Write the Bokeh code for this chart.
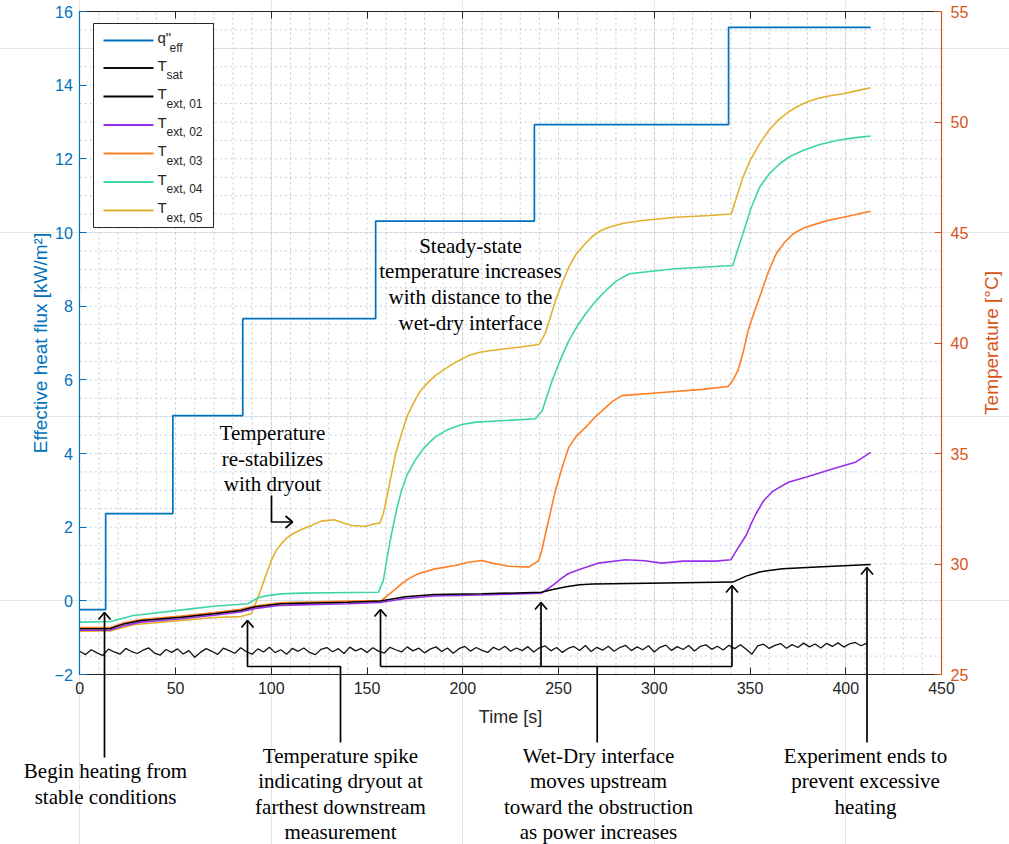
import numpy as np
from bokeh.plotting import figure
from bokeh.models import Range1d, LinearAxis, SingleIntervalTicker
from bokeh.core.properties import value
from bokeh.embed import file_html
from bokeh.resources import INLINE

# ---------------- data ----------------
q_time = [0, 13.5, 13.5, 48.6, 48.6, 85.1, 85.1, 154.5, 154.5, 237.4, 237.4, 338.8, 338.8, 413]
q_eff = [-0.24, -0.24, 2.37, 2.37, 5.03, 5.03, 7.66, 7.66, 10.31, 10.31, 12.93, 12.93, 15.57, 15.57]

tsat_time = list(range(0, 412, 3))
tsat = [26.05, 25.90, 26.12, 25.98, 25.86, 26.15, 26.02, 25.92, 26.18, 26.04, 25.95,
        26.10, 26.20, 25.97, 25.88, 26.13, 26.00, 26.16, 25.93, 26.08, 25.78,
        26.00, 26.17, 26.05, 25.91, 26.19, 26.08, 25.96, 26.21, 26.03, 25.92,
        26.16, 26.02, 26.23, 25.99, 26.12, 25.92, 26.18, 26.05, 26.20, 26.00,
        25.90, 26.14, 26.22, 26.03, 26.17, 25.95, 26.24, 26.07, 26.18, 26.00,
        26.21, 26.06, 25.97, 26.23, 26.12, 26.02, 26.25, 26.07, 26.19, 25.98,
        26.15, 26.25, 26.04, 26.20, 25.96, 26.17, 26.27, 26.06, 26.22, 26.09,
        26.00, 26.23, 26.11, 26.28, 26.05, 26.20, 26.08, 26.26, 26.02, 26.21,
        26.29, 26.07, 26.22, 26.00, 26.18, 26.27, 26.09, 26.31, 26.04, 26.23,
        26.10, 26.28, 26.05, 26.22, 26.32, 26.08, 26.25, 26.12, 26.30, 26.02,
        26.23, 26.33, 26.09, 26.26, 26.13, 26.31, 26.06, 26.27, 26.34, 26.14,
        26.28, 26.11, 26.32, 26.17, 26.35, 26.14, 25.92, 26.29, 26.37, 26.18,
        26.32, 26.40, 26.19, 26.35, 26.22, 26.42, 26.25, 26.38, 26.20, 26.41,
        26.27, 26.43, 26.24, 26.39, 26.45, 26.30, 26.42]

t01 = [0, 14, 16, 23, 32, 53, 70, 84, 91, 105, 140, 157, 170, 185, 210, 241, 247, 254, 261, 268,
       297, 341, 348, 355, 361, 367, 385, 413]
T01 = [27.07, 27.07, 27.08, 27.29, 27.44, 27.59, 27.75, 27.90, 28.05, 28.20, 28.27, 28.33,
       28.52, 28.62, 28.65, 28.72, 28.85, 28.97, 29.06, 29.10, 29.13, 29.18, 29.45, 29.64,
       29.72, 29.78, 29.86, 29.98]

t02 = [0, 14, 16, 23, 32, 53, 70, 84, 91, 105, 140, 157, 170, 185, 210, 241, 244.5, 248, 251.5,
       255, 262, 271, 285, 295, 304, 315, 332, 340, 344, 348, 350.5, 353, 357, 362, 370, 380,
       393, 405, 413]
T02 = [27.00, 27.00, 27.01, 27.21, 27.37, 27.52, 27.68, 27.83, 27.98, 28.13, 28.20, 28.26,
       28.44, 28.55, 28.60, 28.68, 28.88, 29.10, 29.35, 29.56, 29.78, 30.04, 30.19, 30.15,
       30.04, 30.13, 30.13, 30.19, 30.76, 31.30, 31.80, 32.25, 32.85, 33.30, 33.70, 33.95,
       34.30, 34.60, 35.05]

t03 = [0, 14, 16, 23, 32, 53, 70, 84, 91, 105, 140, 157.6, 160, 162.8, 168, 172, 176.8, 185.5,
       196, 203, 210, 215.3, 224, 234.5, 239.7, 241.5, 243.2, 245.8, 248.4, 252, 255.4, 259.5,
       264.2, 268.5, 273, 278, 283, 304, 325, 338.6, 341, 343.7, 346.5, 349, 352, 355, 359.5,
       363.7, 368, 372.5, 378, 384.7, 391, 398.7, 406, 413]
T03 = [27.12, 27.12, 27.13, 27.34, 27.49, 27.64, 27.80, 27.95, 28.10, 28.25, 28.32, 28.35,
       28.52, 28.72, 29.10, 29.35, 29.56, 29.78, 29.93, 30.08, 30.16, 30.04, 29.90, 29.86,
       30.16, 30.70, 31.37, 32.35, 33.33, 34.40, 35.29, 35.80, 36.19, 36.60, 36.95, 37.35,
       37.62, 37.76, 37.90, 38.03, 38.30, 38.76, 39.60, 40.57, 41.35, 42.07, 43.20, 44.04,
       44.55, 44.94, 45.20, 45.39, 45.55, 45.69, 45.83, 45.96]

t04 = [0, 16, 28, 58, 70, 87.7, 93, 98, 105, 116, 131, 156, 158.5, 160.5, 162.8, 165.3, 168,
       171, 175, 180, 185.5, 192, 199.5, 207, 215.3, 238, 241.5, 244, 246.7, 251, 255.4, 260,
       264.2, 268.5, 273, 280, 287, 294, 311, 341, 343.5, 346.3, 350.5, 355, 360, 365.5, 371,
       377.7, 386, 395.2, 404, 413]
T04 = [27.37, 27.40, 27.67, 27.97, 28.09, 28.20, 28.47, 28.57, 28.65, 28.68, 28.70, 28.72,
       29.25, 30.30, 31.37, 32.40, 33.33, 34.05, 34.68, 35.28, 35.74, 36.08, 36.31, 36.42,
       36.46, 36.57, 36.95, 37.60, 38.30, 39.25, 40.11, 40.80, 41.32, 41.80, 42.23, 42.80,
       43.13, 43.20, 43.36, 43.51, 44.20, 44.94, 46.10, 47.05, 47.65, 48.11, 48.45, 48.71,
       48.97, 49.16, 49.28, 49.37]

t05 = [0, 16, 28, 53, 70, 84, 89.5, 91.5, 93.8, 97, 100, 102.5, 105.2, 108, 111.3, 116, 121,
       126, 133, 136.6, 141.9, 148.9, 154, 156.7, 158.5, 160.5, 162.8, 165, 168, 171, 175, 178,
       182, 186, 190.8, 196, 203, 209, 215, 229, 239.7, 243, 245.5, 248.4, 252, 255.4, 259,
       264, 268, 272, 276.4, 284, 293.9, 311.4, 328.8, 340.2, 343, 346.3, 350, 355, 360,
       365.5, 370, 374.2, 379, 384.7, 391, 398.7, 406, 413]
T05 = [26.96, 26.97, 27.25, 27.45, 27.58, 27.62, 27.75, 28.15, 28.65, 29.45, 30.16, 30.60,
       30.91, 31.17, 31.37, 31.57, 31.74, 31.94, 32.00, 31.89, 31.74, 31.70, 31.82, 31.85,
       32.27, 33.10, 34.08, 35.00, 35.89, 36.70, 37.40, 37.85, 38.23, 38.55, 38.83, 39.12,
       39.43, 39.58, 39.66, 39.81, 39.93, 40.42, 41.10, 41.92, 42.75, 43.43, 44.00, 44.50,
       44.85, 45.08, 45.24, 45.42, 45.54, 45.69, 45.77, 45.84, 46.60, 47.50, 48.25, 49.01,
       49.65, 50.14, 50.45, 50.67, 50.88, 51.05, 51.18, 51.28, 51.42, 51.55]

legend_main = ['q"', "T", "T", "T", "T", "T", "T"]
legend_sub = ["eff", "sat", "ext, 01", "ext, 02", "ext, 03", "ext, 04", "ext, 05"]

x_label = "Time [s]"
y_label_left = "Effective heat flux [kW/m²]"
y_label_right = "Temperature [°C]"

# ---------------- styling ----------------
BLUE = "#0072BD"
ORANGE_AX = "#D95319"
C_SAT = "#111111"
C01 = "#000000"
C02 = "#9A2EE8"
C03 = "#FF7F27"
C04 = "#3DD6A3"
C05 = "#E2B12E"
DARK = "#262626"
SANS = "Liberation Sans"
SERIF = "Liberation Serif"

# ---------------- layout: the frame covers the whole canvas ----------------
W, H = 1009, 844
AX_L, AX_R, AX_T, AX_B = 79.3, 941.0, 11.0, 674.0   # pixel box of the axes
SX = (AX_R - AX_L) / 450.0
SY = (AX_B - AX_T) / 18.0
X_START, X_END = -AX_L / SX, (W - AX_L) / SX
Y_END = 16 + AX_T / SY
Y_START = 16 - (H - AX_T) / SY


def q2t(q):
    return 25 + (q + 2) * 30 / 18.0


def ax(xr):
    return (xr - AX_L) / SX


def ay(yr):
    return 16 - (yr - AX_T) / SY


p = figure(width=W, height=H, x_range=Range1d(X_START, X_END), y_range=Range1d(Y_START, Y_END),
           output_backend="svg", toolbar_location=None,
           x_axis_location=None, y_axis_location=None,
           min_border_left=0, min_border_right=0, min_border_top=0, min_border_bottom=0)
p.extra_y_ranges = {"temp": Range1d(q2t(Y_START), q2t(Y_END))}
p.outline_line_color = None
p.background_fill_color = "white"
p.border_fill_color = "white"

# ---------------- grid (dotted) ----------------
hq = list(np.arange(-1.5, 16, 0.5))
p.segment(x0=[0] * len(hq), x1=[450] * len(hq), y0=hq, y1=hq,
          line_color="#bcd1ea", line_width=1, line_dash="2 3")
vt = list(range(10, 450, 10))
p.segment(x0=vt, x1=vt, y0=[-2] * len(vt), y1=[16] * len(vt),
          line_color="#c8c8c8", line_width=1, line_dash="2 3")


# ---------------- axes (fixed inside the full-canvas frame) ----------------
def style_axis(a, color, tick_in=7):
    a.axis_line_color = color
    a.axis_line_width = 1.2
    a.major_tick_line_color = color
    a.major_tick_in = tick_in
    a.major_tick_out = 0
    a.minor_tick_in = 0
    a.minor_tick_out = 0
    a.major_label_text_color = color
    a.major_label_text_font = SANS
    a.major_label_text_font_size = "16px"


left = LinearAxis(fixed_location=0, bounds=(-2, 16), ticker=SingleIntervalTicker(interval=2))
style_axis(left, BLUE)
left.major_label_standoff = 7
p.add_layout(left, "left")

right = LinearAxis(fixed_location=450, y_range_name="temp", bounds=(25, 55),
                   ticker=SingleIntervalTicker(interval=5))
style_axis(right, ORANGE_AX)
right.major_label_standoff = 9
p.add_layout(right, "right")

bottom = LinearAxis(fixed_location=-2, bounds=(0, 450), ticker=SingleIntervalTicker(interval=50))
style_axis(bottom, DARK)
bottom.major_label_standoff = 7
p.add_layout(bottom, "below")

top = LinearAxis(fixed_location=16, bounds=(0, 450), ticker=SingleIntervalTicker(interval=50))
style_axis(top, DARK)
top.major_label_text_color = None
top.major_label_text_font_size = "1px"
p.add_layout(top, "above")

# axis titles
p.text(x=[ax(40)], y=[ay(342.5)], text=[y_label_left], angle=np.pi / 2,
       text_font=value(SANS), text_font_size="19px", text_color=BLUE,
       text_align="center", text_baseline="middle")
p.text(x=[ax(991)], y=[ay(342.5)], text=[y_label_right], angle=np.pi / 2,
       text_font=value(SANS), text_font_size="19px", text_color=ORANGE_AX,
       text_align="center", text_baseline="middle")
p.text(x=[ax(510)], y=[ay(716)], text=[x_label],
       text_font=value(SANS), text_font_size="18px", text_color=DARK,
       text_align="center", text_baseline="middle")

# ---------------- series ----------------
p.line(q_time, q_eff, line_color=BLUE, line_width=1.7)
p.line(tsat_time, tsat, y_range_name="temp", line_color=C_SAT, line_width=1.3)
p.line(t05, T05, y_range_name="temp", line_color=C05, line_width=1.6)
p.line(t04, T04, y_range_name="temp", line_color=C04, line_width=1.6)
p.line(t03, T03, y_range_name="temp", line_color=C03, line_width=1.6)
p.line(t02, T02, y_range_name="temp", line_color=C02, line_width=1.6)
p.line(t01, T01, y_range_name="temp", line_color=C01, line_width=1.5)

# ---------------- legend (custom, to get subscripts) ----------------
leg_colors = [BLUE, C_SAT, C01, C02, C03, C04, C05]
row_y = [40, 67.5, 96, 124.5, 153, 181.5, 210]
p.quad(left=[ax(93)], right=[ax(213)], top=[ay(23)], bottom=[ay(227)],
       fill_color="white", line_color=DARK, line_width=1)
p.segment(x0=[ax(103)] * 7, x1=[ax(153)] * 7, y0=[ay(r) for r in row_y], y1=[ay(r) for r in row_y],
          line_color=leg_colors, line_width=1.8)
p.text(x=[ax(157)] * 7, y=[ay(r - 3) for r in row_y], text=legend_main,
       text_font=value(SANS), text_font_size="15px", text_color=DARK,
       text_align="left", text_baseline="middle")
sub_x = [ax(169)] + [ax(166)] * 6
p.text(x=sub_x, y=[ay(r + 7) for r in row_y], text=legend_sub,
       text_font=value(SANS), text_font_size="12px", text_color=DARK,
       text_align="left", text_baseline="middle")

# ---------------- annotations ----------------
notes = [
    ("Steady-state", 470, 245), ("temperature increases", 470, 270),
    ("with distance to the", 470, 296), ("wet-dry interface", 470, 322),
    ("Temperature", 272, 432), ("re-stabilizes", 272, 458), ("with dryout", 272, 483),
    ("Begin heating from", 105, 770), ("stable conditions", 105, 796),
    ("Temperature spike", 340, 755), ("indicating dryout at", 340, 780),
    ("farthest downstream", 340, 806), ("measurement", 340, 831),
    ("Wet-Dry interface", 598, 755), ("moves upstream", 598, 780),
    ("toward the obstruction", 598, 806), ("as power increases", 598, 831),
    ("Experiment ends to", 865, 755), ("prevent excessive", 865, 780), ("heating", 865, 806),
]
p.text(x=[ax(n[1]) for n in notes], y=[ay(n[2]) for n in notes], text=[n[0] for n in notes],
       text_font=value(SERIF), text_font_size="21px", text_color="black",
       text_align="center", text_baseline="middle")

paths = [
    [(104, 757), (104, 612)],
    [(340, 742), (340, 666), (247, 666), (247, 620)],
    [(380, 666), (731.5, 666)],
    [(380, 666), (380, 609)],
    [(540.5, 666), (540.5, 602)],
    [(731.5, 666), (731.5, 585)],
    [(596.7, 666), (596.7, 742)],
    [(866.5, 742), (866.5, 567)],
    [(271, 495), (271, 521.5), (292, 521.5)],
]
up_tips = [(104, 612), (247, 620), (380, 609), (540.5, 602), (731.5, 585), (866.5, 567)]
for (x, y) in up_tips:
    paths.append([(x - 6, y + 7), (x, y), (x + 6, y + 7)])
paths.append([(285, 515.5), (292, 521.5), (285, 527.5)])

p.multi_line(xs=[[ax(pt[0]) for pt in path] for path in paths],
             ys=[[ay(pt[1]) for pt in path] for path in paths],
             line_color="black", line_width=1.7)

open("out.html", "w").write(file_html(p, INLINE))
